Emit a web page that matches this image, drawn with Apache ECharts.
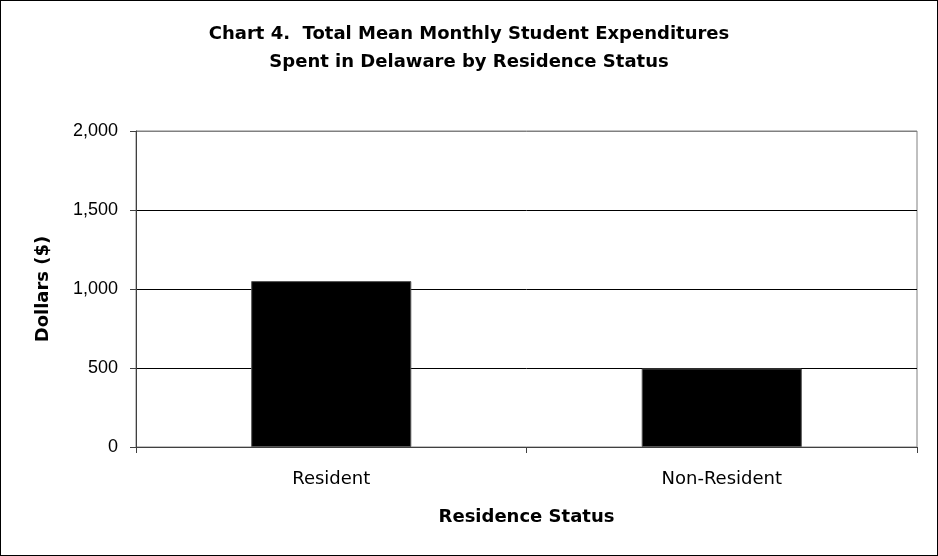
<!DOCTYPE html>
<html><head><meta charset="utf-8">
<script src="https://cdn.jsdelivr.net/npm/echarts@6/dist/echarts.min.js"></script>
<style>html,body{margin:0;padding:0;background:#fff}#c{width:938px;height:556px;box-sizing:border-box;border:1px solid #000}</style>
</head><body><div id="c"></div>
<script>
const categories = ["Resident", "Non-Resident"];
const values = [1050, 497];
const yTicks = [0, 500, 1000, 1500, 2000];

const chart = echarts.init(document.getElementById('c'));
chart.setOption({
  animation: false,
  backgroundColor: '#fff',
  title: {
    text: 'Chart 4.  Total Mean Monthly Student Expenditures\nSpent in Delaware by Residence Status',
    left: 'center', top: 14,
    textStyle: { fontFamily: 'DejaVu Sans', fontWeight: 'bold', fontSize: 18, lineHeight: 28, color: '#000' }
  },
  grid: { left: 135, right: 20, top: 130, bottom: 108, show: true, borderColor: '#808080', borderWidth: 1 },
  xAxis: {
    type: 'category', data: categories,
    name: 'Residence Status', nameLocation: 'middle', nameGap: 61,
    nameTextStyle: { fontFamily: 'DejaVu Sans', fontWeight: 'bold', fontSize: 18, color: '#000' },
    axisLine: { lineStyle: { color: '#404040', width: 1 } },
    axisTick: { show: true, length: 6, lineStyle: { color: '#404040' } },
    axisLabel: { fontFamily: 'DejaVu Sans', fontSize: 18, color: '#000', margin: 23 }
  },
  yAxis: {
    type: 'value', min: yTicks[0], max: yTicks[yTicks.length - 1], interval: 500,
    name: 'Dollars ($)', nameLocation: 'middle', nameGap: 84, nameRotate: 90,
    nameTextStyle: { fontFamily: 'DejaVu Sans', fontWeight: 'bold', fontSize: 18, color: '#000' },
    axisLine: { show: true, lineStyle: { color: '#404040', width: 1 } },
    axisTick: { show: true, length: 6, lineStyle: { color: '#404040' } },
    axisLabel: { fontFamily: 'Liberation Sans, Arial', fontSize: 18, color: '#000', margin: 18,
      formatter: v => v.toLocaleString('en-US') },
    splitLine: { lineStyle: { color: ['#000', '#000', '#000', '#000', '#808080'], width: 1 } }
  },
  series: [{
    type: 'bar', data: values, barCategoryGap: '59%',
    itemStyle: { color: '#000', borderColor: '#555', borderWidth: 1 }
  }]
});
</script></body></html>
